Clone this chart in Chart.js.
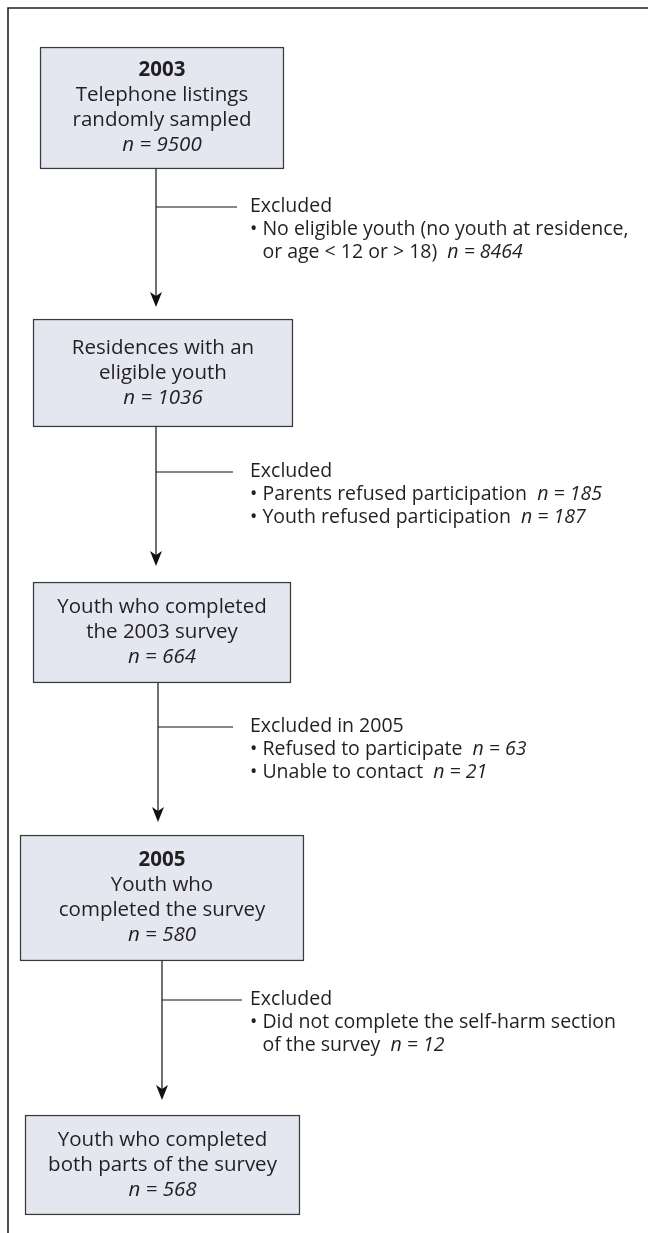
<!DOCTYPE html>
<html><head><meta charset="utf-8">
<script src="https://cdn.jsdelivr.net/npm/chart.js@4/dist/chart.umd.min.js"></script>
<style>html,body{margin:0;padding:0;background:#fff;}canvas{display:block;}</style>
</head><body>
<canvas id="c" width="648" height="1233"></canvas>
<script>
// ---- data ----
const stageTitles = ['2003', '', '', '2005', ''];
const stageLabels = [
  ['Telephone listings', 'randomly sampled'],
  ['Residences with an', 'eligible youth'],
  ['Youth who completed', 'the 2003 survey'],
  ['Youth who', 'completed the survey'],
  ['Youth who completed', 'both parts of the survey']
];
const stageCounts = [9500, 1036, 664, 580, 568];
const exclusionHeaders = ['Excluded', 'Excluded', 'Excluded in 2005', 'Excluded'];
const exclusionReasons = [
  [['No eligible youth (no youth at residence,', 'or age < 12 or > 18)']],
  [['Parents refused participation'], ['Youth refused participation']],
  [['Refused to participate'], ['Unable to contact']],
  [['Did not complete the self-harm section', 'of the survey']]
];
const exclusionCounts = [[8464], [185, 187], [63, 21], [12]];

// ---- layout (frame units = pixels of a 648 x 1233 page) ----
const boxLeft   = [40, 33, 33, 20, 25];
const boxRight  = [284, 293, 291, 304, 300];
const boxTop    = [47, 319, 582, 835, 1115];
const boxBottom = [169, 427, 683, 961, 1215];
const stemX     = [156, 156, 158, 162];
const arrowTip  = [307, 566, 822, 1100];
const branchY   = [207, 472, 727, 1000];
const branchEnd = [237, 233, 233, 242];
const noteX     = 250;

const FONT = '"Open Sans", "Noto Sans", sans-serif';
const BOX_PX = 20.5, NOTE_PX = 19.5;
const TEXT = '#231f20';
const BOX_FILL = '#e5e7f0';
const BOX_LINE = '#3a3a3a';

const datasets = [];
// frame
datasets.push({type: 'line', data: [{x: 8, y: 1233}, {x: 8, y: 8}, {x: 648, y: 8}],
  borderColor: '#222', borderWidth: 1.6, pointRadius: 0, fill: false, tension: 0, order: 3});
// boxes as floating bars
stageCounts.forEach((n, i) => {
  datasets.push({type: 'bar', label: 'box' + i, grouped: false,
    data: [{x: (boxLeft[i] + boxRight[i]) / 2, y: [boxTop[i], boxBottom[i]]}],
    barThickness: boxRight[i] - boxLeft[i],
    backgroundColor: BOX_FILL, borderColor: BOX_LINE, borderWidth: 1.5, borderSkipped: false, order: 1});
});
// connectors
stemX.forEach((x, i) => {
  datasets.push({type: 'line', label: 'stem' + i,
    data: [{x: x, y: boxBottom[i]}, {x: x, y: arrowTip[i] - 4}],
    borderColor: '#111', borderWidth: 1.2, pointRadius: 0, fill: false, order: 2});
  datasets.push({type: 'line', label: 'branch' + i,
    data: [{x: x, y: branchY[i]}, {x: branchEnd[i], y: branchY[i]}],
    borderColor: '#111', borderWidth: 1.2, pointRadius: 0, fill: false, order: 2});
});

const textPlugin = {
  id: 'flowText',
  afterDatasetsDraw(chart) {
    const ctx = chart.ctx;
    const metas = chart.data.datasets.map((d, i) => chart.getDatasetMeta(i));
    const find = lab => metas[chart.data.datasets.findIndex(d => d.label === lab)];
    ctx.save();
    ctx.fillStyle = TEXT;
    ctx.textBaseline = 'middle';
    // box texts
    stageCounts.forEach((n, i) => {
      const el = find('box' + i).data[0];
      const top = Math.min(el.y, el.base), bot = Math.max(el.y, el.base);
      const lines = [];
      if (stageTitles[i]) lines.push({t: stageTitles[i], f: 'bold ' + BOX_PX + 'px ' + FONT});
      stageLabels[i].forEach(t => lines.push({t: t, f: BOX_PX + 'px ' + FONT}));
      lines.push({t: 'n = ' + n, f: 'italic ' + BOX_PX + 'px ' + FONT});
      const lh = 25;
      const y0 = (top + bot) / 2 - (lines.length - 1) * lh / 2;
      ctx.textAlign = 'center';
      lines.forEach((L, k) => { ctx.font = L.f; ctx.fillText(L.t, el.x, y0 + k * lh); });
    });
    // arrowheads + notes
    const tx = chart.scales.x.getPixelForValue(noteX);
    stemX.forEach((x, i) => {
      const st = find('stem' + i).data[1];
      const tip = chart.scales.y.getPixelForValue(arrowTip[i]);
      ctx.beginPath();
      ctx.moveTo(st.x, tip);
      ctx.lineTo(st.x - 6, tip - 15);
      ctx.lineTo(st.x, tip - 11);
      ctx.lineTo(st.x + 6, tip - 15);
      ctx.closePath();
      ctx.fillStyle = '#111';
      ctx.fill();
      ctx.fillStyle = TEXT;
      const br = find('branch' + i).data[1];
      let y = br.y - 1;
      const lh = 23;
      ctx.textAlign = 'left';
      ctx.font = NOTE_PX + 'px ' + FONT;
      ctx.fillText(exclusionHeaders[i], tx, y);
      exclusionReasons[i].forEach((reason, r) => {
        reason.forEach((line, k) => {
          y += lh;
          ctx.font = NOTE_PX + 'px ' + FONT;
          const bulletW = ctx.measureText('• ').width;
          if (k === 0) ctx.fillText('•', tx, y);
          ctx.fillText(line, tx + bulletW, y);
          if (k === reason.length - 1) {
            const w = ctx.measureText(line + '  ').width;
            ctx.font = 'italic ' + NOTE_PX + 'px ' + FONT;
            ctx.fillText('n = ' + exclusionCounts[i][r], tx + bulletW + w, y);
          }
        });
      });
    });
    ctx.restore();
  }
};

new Chart(document.getElementById('c'), {
  type: 'bar',
  data: {datasets: datasets},
  options: {
    responsive: false, animation: false,
    layout: {padding: 0},
    plugins: {legend: {display: false}, tooltip: {enabled: false}, title: {display: false}},
    scales: {
      x: {type: 'linear', min: 0, max: 648, offset: false, display: false},
      y: {type: 'linear', min: 0, max: 1233, reverse: true, display: false}
    }
  },
  plugins: [textPlugin]
});
</script>
</body></html>
